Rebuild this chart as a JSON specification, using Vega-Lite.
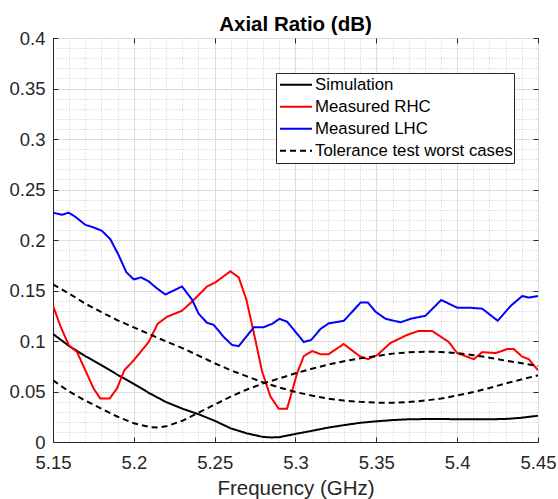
{
  "$schema": "https://vega.github.io/schema/vega-lite/v6.json",
  "width": 485,
  "height": 404,
  "autosize": {"type": "none"},
  "padding": {"left": 53, "top": 38, "right": 20, "bottom": 57},
  "background": "white",
  "config": {
    "view": {"stroke": "#262626", "strokeWidth": 1},
    "font": "Liberation Sans"
  },
  "title": {
    "text": "Axial Ratio (dB)",
    "font": "Liberation Sans",
    "fontSize": 20.5,
    "fontWeight": "bold",
    "color": "#000000",
    "anchor": "middle",
    "frame": "group",
    "baseline": "alphabetic",
    "offset": 7,
    "dy": 29
  },
  "data": {
    "values": [
      {"f": 5.15, "v": 0.107, "s": "Simulation", "c": "sim"},
      {"f": 5.16, "v": 0.095, "s": "Simulation", "c": "sim"},
      {"f": 5.17, "v": 0.085, "s": "Simulation", "c": "sim"},
      {"f": 5.18, "v": 0.076, "s": "Simulation", "c": "sim"},
      {"f": 5.19, "v": 0.0665, "s": "Simulation", "c": "sim"},
      {"f": 5.20, "v": 0.0575, "s": "Simulation", "c": "sim"},
      {"f": 5.21, "v": 0.048, "s": "Simulation", "c": "sim"},
      {"f": 5.22, "v": 0.0395, "s": "Simulation", "c": "sim"},
      {"f": 5.23, "v": 0.033, "s": "Simulation", "c": "sim"},
      {"f": 5.24, "v": 0.0275, "s": "Simulation", "c": "sim"},
      {"f": 5.25, "v": 0.021, "s": "Simulation", "c": "sim"},
      {"f": 5.26, "v": 0.0135, "s": "Simulation", "c": "sim"},
      {"f": 5.27, "v": 0.0085, "s": "Simulation", "c": "sim"},
      {"f": 5.28, "v": 0.005, "s": "Simulation", "c": "sim"},
      {"f": 5.285, "v": 0.0045, "s": "Simulation", "c": "sim"},
      {"f": 5.29, "v": 0.0048, "s": "Simulation", "c": "sim"},
      {"f": 5.30, "v": 0.008, "s": "Simulation", "c": "sim"},
      {"f": 5.31, "v": 0.011, "s": "Simulation", "c": "sim"},
      {"f": 5.32, "v": 0.0142, "s": "Simulation", "c": "sim"},
      {"f": 5.33, "v": 0.0167, "s": "Simulation", "c": "sim"},
      {"f": 5.34, "v": 0.019, "s": "Simulation", "c": "sim"},
      {"f": 5.35, "v": 0.0205, "s": "Simulation", "c": "sim"},
      {"f": 5.36, "v": 0.0217, "s": "Simulation", "c": "sim"},
      {"f": 5.37, "v": 0.0225, "s": "Simulation", "c": "sim"},
      {"f": 5.38, "v": 0.0227, "s": "Simulation", "c": "sim"},
      {"f": 5.39, "v": 0.0227, "s": "Simulation", "c": "sim"},
      {"f": 5.40, "v": 0.0226, "s": "Simulation", "c": "sim"},
      {"f": 5.41, "v": 0.0225, "s": "Simulation", "c": "sim"},
      {"f": 5.42, "v": 0.0225, "s": "Simulation", "c": "sim"},
      {"f": 5.43, "v": 0.0228, "s": "Simulation", "c": "sim"},
      {"f": 5.44, "v": 0.024, "s": "Simulation", "c": "sim"},
      {"f": 5.45, "v": 0.026, "s": "Simulation", "c": "sim"},

      {"f": 5.15, "v": 0.135, "s": "Measured RHC", "c": "rhc"},
      {"f": 5.1545, "v": 0.115, "s": "Measured RHC", "c": "rhc"},
      {"f": 5.1597, "v": 0.096, "s": "Measured RHC", "c": "rhc"},
      {"f": 5.1649, "v": 0.089, "s": "Measured RHC", "c": "rhc"},
      {"f": 5.17, "v": 0.071, "s": "Measured RHC", "c": "rhc"},
      {"f": 5.1751, "v": 0.053, "s": "Measured RHC", "c": "rhc"},
      {"f": 5.1793, "v": 0.043, "s": "Measured RHC", "c": "rhc"},
      {"f": 5.185, "v": 0.043, "s": "Measured RHC", "c": "rhc"},
      {"f": 5.1896, "v": 0.053, "s": "Measured RHC", "c": "rhc"},
      {"f": 5.1941, "v": 0.071, "s": "Measured RHC", "c": "rhc"},
      {"f": 5.20, "v": 0.081, "s": "Measured RHC", "c": "rhc"},
      {"f": 5.2051, "v": 0.091, "s": "Measured RHC", "c": "rhc"},
      {"f": 5.2092, "v": 0.099, "s": "Measured RHC", "c": "rhc"},
      {"f": 5.2147, "v": 0.117, "s": "Measured RHC", "c": "rhc"},
      {"f": 5.2205, "v": 0.124, "s": "Measured RHC", "c": "rhc"},
      {"f": 5.2298, "v": 0.130, "s": "Measured RHC", "c": "rhc"},
      {"f": 5.236, "v": 0.139, "s": "Measured RHC", "c": "rhc"},
      {"f": 5.2453, "v": 0.154, "s": "Measured RHC", "c": "rhc"},
      {"f": 5.2504, "v": 0.158, "s": "Measured RHC", "c": "rhc"},
      {"f": 5.2597, "v": 0.169, "s": "Measured RHC", "c": "rhc"},
      {"f": 5.2649, "v": 0.163, "s": "Measured RHC", "c": "rhc"},
      {"f": 5.2696, "v": 0.141, "s": "Measured RHC", "c": "rhc"},
      {"f": 5.2741, "v": 0.109, "s": "Measured RHC", "c": "rhc"},
      {"f": 5.2793, "v": 0.070, "s": "Measured RHC", "c": "rhc"},
      {"f": 5.2845, "v": 0.045, "s": "Measured RHC", "c": "rhc"},
      {"f": 5.2896, "v": 0.033, "s": "Measured RHC", "c": "rhc"},
      {"f": 5.2948, "v": 0.033, "s": "Measured RHC", "c": "rhc"},
      {"f": 5.301, "v": 0.068, "s": "Measured RHC", "c": "rhc"},
      {"f": 5.3051, "v": 0.085, "s": "Measured RHC", "c": "rhc"},
      {"f": 5.3103, "v": 0.090, "s": "Measured RHC", "c": "rhc"},
      {"f": 5.3154, "v": 0.087, "s": "Measured RHC", "c": "rhc"},
      {"f": 5.3205, "v": 0.087, "s": "Measured RHC", "c": "rhc"},
      {"f": 5.3298, "v": 0.097, "s": "Measured RHC", "c": "rhc"},
      {"f": 5.3397, "v": 0.085, "s": "Measured RHC", "c": "rhc"},
      {"f": 5.3448, "v": 0.082, "s": "Measured RHC", "c": "rhc"},
      {"f": 5.3505, "v": 0.086, "s": "Measured RHC", "c": "rhc"},
      {"f": 5.3587, "v": 0.098, "s": "Measured RHC", "c": "rhc"},
      {"f": 5.369, "v": 0.106, "s": "Measured RHC", "c": "rhc"},
      {"f": 5.3762, "v": 0.110, "s": "Measured RHC", "c": "rhc"},
      {"f": 5.3845, "v": 0.110, "s": "Measured RHC", "c": "rhc"},
      {"f": 5.3948, "v": 0.099, "s": "Measured RHC", "c": "rhc"},
      {"f": 5.40, "v": 0.088, "s": "Measured RHC", "c": "rhc"},
      {"f": 5.4103, "v": 0.082, "s": "Measured RHC", "c": "rhc"},
      {"f": 5.4155, "v": 0.089, "s": "Measured RHC", "c": "rhc"},
      {"f": 5.4238, "v": 0.088, "s": "Measured RHC", "c": "rhc"},
      {"f": 5.4309, "v": 0.092, "s": "Measured RHC", "c": "rhc"},
      {"f": 5.435, "v": 0.092, "s": "Measured RHC", "c": "rhc"},
      {"f": 5.4402, "v": 0.0845, "s": "Measured RHC", "c": "rhc"},
      {"f": 5.4443, "v": 0.082, "s": "Measured RHC", "c": "rhc"},
      {"f": 5.45, "v": 0.071, "s": "Measured RHC", "c": "rhc"},

      {"f": 5.15, "v": 0.227, "s": "Measured LHC", "c": "lhc"},
      {"f": 5.1556, "v": 0.225, "s": "Measured LHC", "c": "lhc"},
      {"f": 5.1597, "v": 0.227, "s": "Measured LHC", "c": "lhc"},
      {"f": 5.1638, "v": 0.223, "s": "Measured LHC", "c": "lhc"},
      {"f": 5.170, "v": 0.215, "s": "Measured LHC", "c": "lhc"},
      {"f": 5.1751, "v": 0.2125, "s": "Measured LHC", "c": "lhc"},
      {"f": 5.1803, "v": 0.209, "s": "Measured LHC", "c": "lhc"},
      {"f": 5.1855, "v": 0.2007, "s": "Measured LHC", "c": "lhc"},
      {"f": 5.1906, "v": 0.185, "s": "Measured LHC", "c": "lhc"},
      {"f": 5.1954, "v": 0.168, "s": "Measured LHC", "c": "lhc"},
      {"f": 5.20, "v": 0.161, "s": "Measured LHC", "c": "lhc"},
      {"f": 5.2045, "v": 0.163, "s": "Measured LHC", "c": "lhc"},
      {"f": 5.2092, "v": 0.159, "s": "Measured LHC", "c": "lhc"},
      {"f": 5.2144, "v": 0.152, "s": "Measured LHC", "c": "lhc"},
      {"f": 5.2195, "v": 0.146, "s": "Measured LHC", "c": "lhc"},
      {"f": 5.2298, "v": 0.154, "s": "Measured LHC", "c": "lhc"},
      {"f": 5.236, "v": 0.141, "s": "Measured LHC", "c": "lhc"},
      {"f": 5.2401, "v": 0.127, "s": "Measured LHC", "c": "lhc"},
      {"f": 5.2453, "v": 0.118, "s": "Measured LHC", "c": "lhc"},
      {"f": 5.2494, "v": 0.116, "s": "Measured LHC", "c": "lhc"},
      {"f": 5.2556, "v": 0.104, "s": "Measured LHC", "c": "lhc"},
      {"f": 5.2608, "v": 0.096, "s": "Measured LHC", "c": "lhc"},
      {"f": 5.2649, "v": 0.095, "s": "Measured LHC", "c": "lhc"},
      {"f": 5.2742, "v": 0.1135, "s": "Measured LHC", "c": "lhc"},
      {"f": 5.280, "v": 0.1135, "s": "Measured LHC", "c": "lhc"},
      {"f": 5.2856, "v": 0.117, "s": "Measured LHC", "c": "lhc"},
      {"f": 5.2901, "v": 0.122, "s": "Measured LHC", "c": "lhc"},
      {"f": 5.2949, "v": 0.119, "s": "Measured LHC", "c": "lhc"},
      {"f": 5.3031, "v": 0.103, "s": "Measured LHC", "c": "lhc"},
      {"f": 5.3051, "v": 0.099, "s": "Measured LHC", "c": "lhc"},
      {"f": 5.3097, "v": 0.101, "s": "Measured LHC", "c": "lhc"},
      {"f": 5.3155, "v": 0.112, "s": "Measured LHC", "c": "lhc"},
      {"f": 5.3206, "v": 0.1175, "s": "Measured LHC", "c": "lhc"},
      {"f": 5.3299, "v": 0.120, "s": "Measured LHC", "c": "lhc"},
      {"f": 5.3351, "v": 0.129, "s": "Measured LHC", "c": "lhc"},
      {"f": 5.3402, "v": 0.138, "s": "Measured LHC", "c": "lhc"},
      {"f": 5.3448, "v": 0.138, "s": "Measured LHC", "c": "lhc"},
      {"f": 5.3495, "v": 0.129, "s": "Measured LHC", "c": "lhc"},
      {"f": 5.3557, "v": 0.122, "s": "Measured LHC", "c": "lhc"},
      {"f": 5.365, "v": 0.1185, "s": "Measured LHC", "c": "lhc"},
      {"f": 5.3712, "v": 0.122, "s": "Measured LHC", "c": "lhc"},
      {"f": 5.3804, "v": 0.125, "s": "Measured LHC", "c": "lhc"},
      {"f": 5.3901, "v": 0.1406, "s": "Measured LHC", "c": "lhc"},
      {"f": 5.40, "v": 0.133, "s": "Measured LHC", "c": "lhc"},
      {"f": 5.4072, "v": 0.133, "s": "Measured LHC", "c": "lhc"},
      {"f": 5.4155, "v": 0.132, "s": "Measured LHC", "c": "lhc"},
      {"f": 5.4251, "v": 0.120, "s": "Measured LHC", "c": "lhc"},
      {"f": 5.433, "v": 0.1346, "s": "Measured LHC", "c": "lhc"},
      {"f": 5.4402, "v": 0.1445, "s": "Measured LHC", "c": "lhc"},
      {"f": 5.4443, "v": 0.143, "s": "Measured LHC", "c": "lhc"},
      {"f": 5.45, "v": 0.1445, "s": "Measured LHC", "c": "lhc"},

      {"f": 5.15, "v": 0.156, "s": "Tolerance test worst cases", "c": "tolA"},
      {"f": 5.16, "v": 0.147, "s": "Tolerance test worst cases", "c": "tolA"},
      {"f": 5.17, "v": 0.137, "s": "Tolerance test worst cases", "c": "tolA"},
      {"f": 5.18, "v": 0.1285, "s": "Tolerance test worst cases", "c": "tolA"},
      {"f": 5.19, "v": 0.1205, "s": "Tolerance test worst cases", "c": "tolA"},
      {"f": 5.20, "v": 0.1135, "s": "Tolerance test worst cases", "c": "tolA"},
      {"f": 5.21, "v": 0.1065, "s": "Tolerance test worst cases", "c": "tolA"},
      {"f": 5.22, "v": 0.0995, "s": "Tolerance test worst cases", "c": "tolA"},
      {"f": 5.23, "v": 0.093, "s": "Tolerance test worst cases", "c": "tolA"},
      {"f": 5.24, "v": 0.0855, "s": "Tolerance test worst cases", "c": "tolA"},
      {"f": 5.25, "v": 0.078, "s": "Tolerance test worst cases", "c": "tolA"},
      {"f": 5.26, "v": 0.071, "s": "Tolerance test worst cases", "c": "tolA"},
      {"f": 5.27, "v": 0.065, "s": "Tolerance test worst cases", "c": "tolA"},
      {"f": 5.28, "v": 0.059, "s": "Tolerance test worst cases", "c": "tolA"},
      {"f": 5.29, "v": 0.054, "s": "Tolerance test worst cases", "c": "tolA"},
      {"f": 5.30, "v": 0.0495, "s": "Tolerance test worst cases", "c": "tolA"},
      {"f": 5.31, "v": 0.046, "s": "Tolerance test worst cases", "c": "tolA"},
      {"f": 5.32, "v": 0.043, "s": "Tolerance test worst cases", "c": "tolA"},
      {"f": 5.33, "v": 0.041, "s": "Tolerance test worst cases", "c": "tolA"},
      {"f": 5.34, "v": 0.0398, "s": "Tolerance test worst cases", "c": "tolA"},
      {"f": 5.35, "v": 0.039, "s": "Tolerance test worst cases", "c": "tolA"},
      {"f": 5.36, "v": 0.0388, "s": "Tolerance test worst cases", "c": "tolA"},
      {"f": 5.37, "v": 0.0395, "s": "Tolerance test worst cases", "c": "tolA"},
      {"f": 5.38, "v": 0.041, "s": "Tolerance test worst cases", "c": "tolA"},
      {"f": 5.39, "v": 0.043, "s": "Tolerance test worst cases", "c": "tolA"},
      {"f": 5.40, "v": 0.046, "s": "Tolerance test worst cases", "c": "tolA"},
      {"f": 5.41, "v": 0.0495, "s": "Tolerance test worst cases", "c": "tolA"},
      {"f": 5.42, "v": 0.0535, "s": "Tolerance test worst cases", "c": "tolA"},
      {"f": 5.43, "v": 0.058, "s": "Tolerance test worst cases", "c": "tolA"},
      {"f": 5.44, "v": 0.062, "s": "Tolerance test worst cases", "c": "tolA"},
      {"f": 5.45, "v": 0.066, "s": "Tolerance test worst cases", "c": "tolA"},

      {"f": 5.15, "v": 0.061, "s": "Tolerance test worst cases", "c": "tolB"},
      {"f": 5.16, "v": 0.050, "s": "Tolerance test worst cases", "c": "tolB"},
      {"f": 5.17, "v": 0.041, "s": "Tolerance test worst cases", "c": "tolB"},
      {"f": 5.18, "v": 0.033, "s": "Tolerance test worst cases", "c": "tolB"},
      {"f": 5.19, "v": 0.025, "s": "Tolerance test worst cases", "c": "tolB"},
      {"f": 5.20, "v": 0.0185, "s": "Tolerance test worst cases", "c": "tolB"},
      {"f": 5.21, "v": 0.0148, "s": "Tolerance test worst cases", "c": "tolB"},
      {"f": 5.215, "v": 0.0143, "s": "Tolerance test worst cases", "c": "tolB"},
      {"f": 5.22, "v": 0.0155, "s": "Tolerance test worst cases", "c": "tolB"},
      {"f": 5.23, "v": 0.021, "s": "Tolerance test worst cases", "c": "tolB"},
      {"f": 5.24, "v": 0.029, "s": "Tolerance test worst cases", "c": "tolB"},
      {"f": 5.25, "v": 0.037, "s": "Tolerance test worst cases", "c": "tolB"},
      {"f": 5.26, "v": 0.045, "s": "Tolerance test worst cases", "c": "tolB"},
      {"f": 5.27, "v": 0.052, "s": "Tolerance test worst cases", "c": "tolB"},
      {"f": 5.28, "v": 0.058, "s": "Tolerance test worst cases", "c": "tolB"},
      {"f": 5.29, "v": 0.063, "s": "Tolerance test worst cases", "c": "tolB"},
      {"f": 5.30, "v": 0.068, "s": "Tolerance test worst cases", "c": "tolB"},
      {"f": 5.31, "v": 0.0725, "s": "Tolerance test worst cases", "c": "tolB"},
      {"f": 5.32, "v": 0.0765, "s": "Tolerance test worst cases", "c": "tolB"},
      {"f": 5.33, "v": 0.080, "s": "Tolerance test worst cases", "c": "tolB"},
      {"f": 5.34, "v": 0.0828, "s": "Tolerance test worst cases", "c": "tolB"},
      {"f": 5.35, "v": 0.085, "s": "Tolerance test worst cases", "c": "tolB"},
      {"f": 5.36, "v": 0.0875, "s": "Tolerance test worst cases", "c": "tolB"},
      {"f": 5.37, "v": 0.0888, "s": "Tolerance test worst cases", "c": "tolB"},
      {"f": 5.38, "v": 0.0894, "s": "Tolerance test worst cases", "c": "tolB"},
      {"f": 5.39, "v": 0.0892, "s": "Tolerance test worst cases", "c": "tolB"},
      {"f": 5.40, "v": 0.088, "s": "Tolerance test worst cases", "c": "tolB"},
      {"f": 5.41, "v": 0.086, "s": "Tolerance test worst cases", "c": "tolB"},
      {"f": 5.42, "v": 0.0835, "s": "Tolerance test worst cases", "c": "tolB"},
      {"f": 5.43, "v": 0.0805, "s": "Tolerance test worst cases", "c": "tolB"},
      {"f": 5.44, "v": 0.078, "s": "Tolerance test worst cases", "c": "tolB"},
      {"f": 5.45, "v": 0.0752, "s": "Tolerance test worst cases", "c": "tolB"}
    ]
  },
  "resolve": {"axis": {"x": "independent", "y": "independent"}},
  "layer": [
    {
      "mark": {"type": "line", "strokeWidth": 2, "clip": true},
      "encoding": {
        "x": {
          "field": "f",
          "type": "quantitative",
          "scale": {"domain": [5.15, 5.45], "nice": false, "zero": false},
          "axis": {
            "title": "Frequency (GHz)",
            "titleFont": "Liberation Sans",
            "titleFontSize": 20.5,
            "titleFontWeight": "normal",
            "titleColor": "#262626",
            "titlePadding": 7,
            "values": [5.15, 5.16, 5.17, 5.18, 5.19, 5.2, 5.21, 5.22, 5.23, 5.24, 5.25, 5.26, 5.27, 5.28, 5.29, 5.3, 5.31, 5.32, 5.33, 5.34, 5.35, 5.36, 5.37, 5.38, 5.39, 5.4, 5.41, 5.42, 5.43, 5.44, 5.45],
            "labelExpr": "abs(datum.value*20 - round(datum.value*20)) < 0.0001 ? format(datum.value, '.2~f') : ''",
            "labelFont": "Liberation Sans",
            "labelFontSize": 18.5,
            "labelColor": "#262626",
            "labelFlush": false,
            "labelOverlap": false,
            "labelPadding": 16,
            "domainColor": "#262626",
            "domainWidth": 1,
            "tickColor": "#262626",
            "tickSize": -5,
            "tickOpacity": {"condition": {"test": "abs(datum.value*20 - round(datum.value*20)) < 0.0001", "value": 1}, "value": 0},
            "grid": true,
            "gridColor": {"condition": {"test": "abs(datum.value*20 - round(datum.value*20)) < 0.0001", "value": "#dcdcdc"}, "value": "#c8c8c8"},
            "gridDash": {"condition": {"test": "abs(datum.value*20 - round(datum.value*20)) < 0.0001", "value": []}, "value": [1, 2]},
            "gridWidth": 1
          }
        },
        "y": {
          "field": "v",
          "type": "quantitative",
          "scale": {"domain": [0, 0.4], "nice": false},
          "axis": {
            "title": null,
            "values": [0, 0.01, 0.02, 0.03, 0.04, 0.05, 0.06, 0.07, 0.08, 0.09, 0.1, 0.11, 0.12, 0.13, 0.14, 0.15, 0.16, 0.17, 0.18, 0.19, 0.2, 0.21, 0.22, 0.23, 0.24, 0.25, 0.26, 0.27, 0.28, 0.29, 0.3, 0.31, 0.32, 0.33, 0.34, 0.35, 0.36, 0.37, 0.38, 0.39, 0.4],
            "labelExpr": "abs(datum.value*20 - round(datum.value*20)) < 0.0001 ? format(datum.value, '.2~f') : ''",
            "labelFont": "Liberation Sans",
            "labelFontSize": 18.5,
            "labelColor": "#262626",
            "labelFlush": false,
            "labelOverlap": false,
            "labelPadding": 13,
            "domainColor": "#262626",
            "domainWidth": 1,
            "tickColor": "#262626",
            "tickSize": -5,
            "tickOpacity": {"condition": {"test": "abs(datum.value*20 - round(datum.value*20)) < 0.0001", "value": 1}, "value": 0},
            "grid": true,
            "gridColor": {"condition": {"test": "abs(datum.value*20 - round(datum.value*20)) < 0.0001", "value": "#dcdcdc"}, "value": "#c8c8c8"},
            "gridDash": {"condition": {"test": "abs(datum.value*20 - round(datum.value*20)) < 0.0001", "value": []}, "value": [1, 2]},
            "gridWidth": 1
          }
        },
        "color": {
          "field": "s",
          "type": "nominal",
          "scale": {
            "domain": ["Simulation", "Measured RHC", "Measured LHC", "Tolerance test worst cases"],
            "range": ["#000000", "#ff0000", "#0000ff", "#000000"]
          },
          "legend": {
            "title": null,
            "orient": "none",
            "legendX": 223,
            "legendY": 35,
            "symbolType": "stroke",
            "symbolSize": 1024,
            "symbolStrokeWidth": 2,
            "symbolOffset": 2,
            "clipHeight": 21.6,
            "labelFont": "Liberation Sans",
            "labelFontSize": 16.8,
            "labelColor": "#000000",
            "labelOffset": 2,
            "labelLimit": 400,
            "rowPadding": 0,
            "padding": 1,
            "fillColor": "#ffffff",
            "strokeColor": "#262626"
          }
        },
        "strokeDash": {
          "field": "s",
          "type": "nominal",
          "scale": {
            "domain": ["Simulation", "Measured RHC", "Measured LHC", "Tolerance test worst cases"],
            "range": [[1, 0], [1, 0], [1, 0], [6, 4]]
          },
          "legend": {
            "title": null,
            "orient": "none",
            "legendX": 223,
            "legendY": 35,
            "symbolType": "stroke",
            "symbolSize": 1024,
            "symbolStrokeWidth": 2,
            "symbolOffset": 2,
            "clipHeight": 21.6,
            "labelFont": "Liberation Sans",
            "labelFontSize": 16.8,
            "labelColor": "#000000",
            "labelOffset": 2,
            "labelLimit": 400,
            "rowPadding": 0,
            "padding": 1,
            "fillColor": "#ffffff",
            "strokeColor": "#262626"
          }
        },
        "detail": {"field": "c", "type": "nominal"}
      }
    },
    {
      "mark": {"type": "line", "strokeOpacity": 0, "clip": true},
      "encoding": {
        "x": {
          "field": "f",
          "type": "quantitative",
          "axis": {
            "orient": "top",
            "title": null,
            "values": [5.15, 5.2, 5.25, 5.3, 5.35, 5.4, 5.45],
            "labels": false,
            "domain": false,
            "grid": false,
            "ticks": true,
            "tickSize": -5,
            "tickColor": "#262626"
          }
        },
        "y": {
          "field": "v",
          "type": "quantitative",
          "axis": {
            "orient": "right",
            "title": null,
            "values": [0, 0.05, 0.1, 0.15, 0.2, 0.25, 0.3, 0.35, 0.4],
            "labels": false,
            "domain": false,
            "grid": false,
            "ticks": true,
            "tickSize": -5,
            "tickColor": "#262626"
          }
        },
        "detail": {"field": "c", "type": "nominal"}
      }
    }
  ]
}
